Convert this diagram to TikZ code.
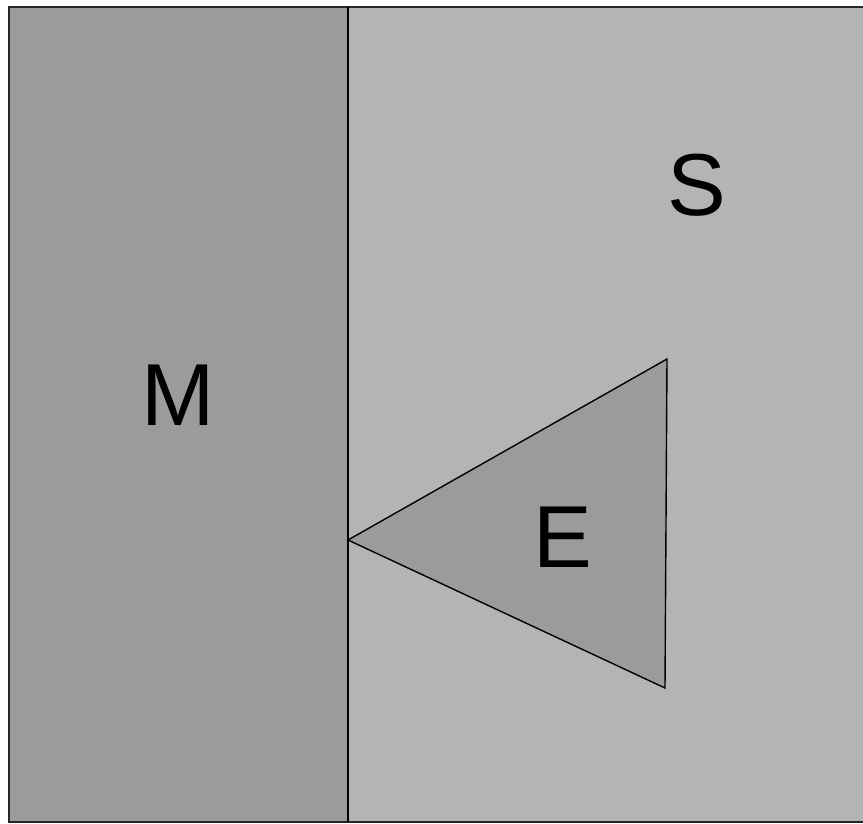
\documentclass[tikz,border=0pt]{standalone}
\usepackage{fontspec}
\setmainfont{Liberation Sans}
\definecolor{mgray}{HTML}{9B9B9B}
\definecolor{sgray}{HTML}{B4B4B4}
\begin{document}
\begin{tikzpicture}[x=1pt,y=-1pt,letter/.style={font=\fontsize{88}{88}\selectfont}]
                \useasboundingbox (0,0) rectangle (863,824);
                \coordinate (TL) at (9, 7);
                \coordinate (TM) at (348, 7);
                \coordinate (BM) at (348, 822);
                \coordinate (BR) at (866, 822);
                \coordinate (A) at (348, 540);
                \coordinate (B) at (667, 359);
                \coordinate (C) at (665, 688);

                \fill[sgray] (TM) rectangle (BR);
                \fill[mgray] (TL) rectangle (BM);
                \draw[line width=2pt,black!85] (BM) -| (TL) -- (866,7);
                \draw[line width=2pt,black!85] (BM) -- (BR);
                \draw[line width=1.4pt] (TM) -- (BM);
                \draw[line width=1.4pt,fill=mgray,line join=miter] (A) -- (B) -- (C) -- cycle;

                \node[letter] (M) at (178, 395.5) {M};
                \node[letter] (S) at (697, 185) {S};
                \node[letter] (E) at (563, 537.5) {E};
            \end{tikzpicture}
\end{document}
